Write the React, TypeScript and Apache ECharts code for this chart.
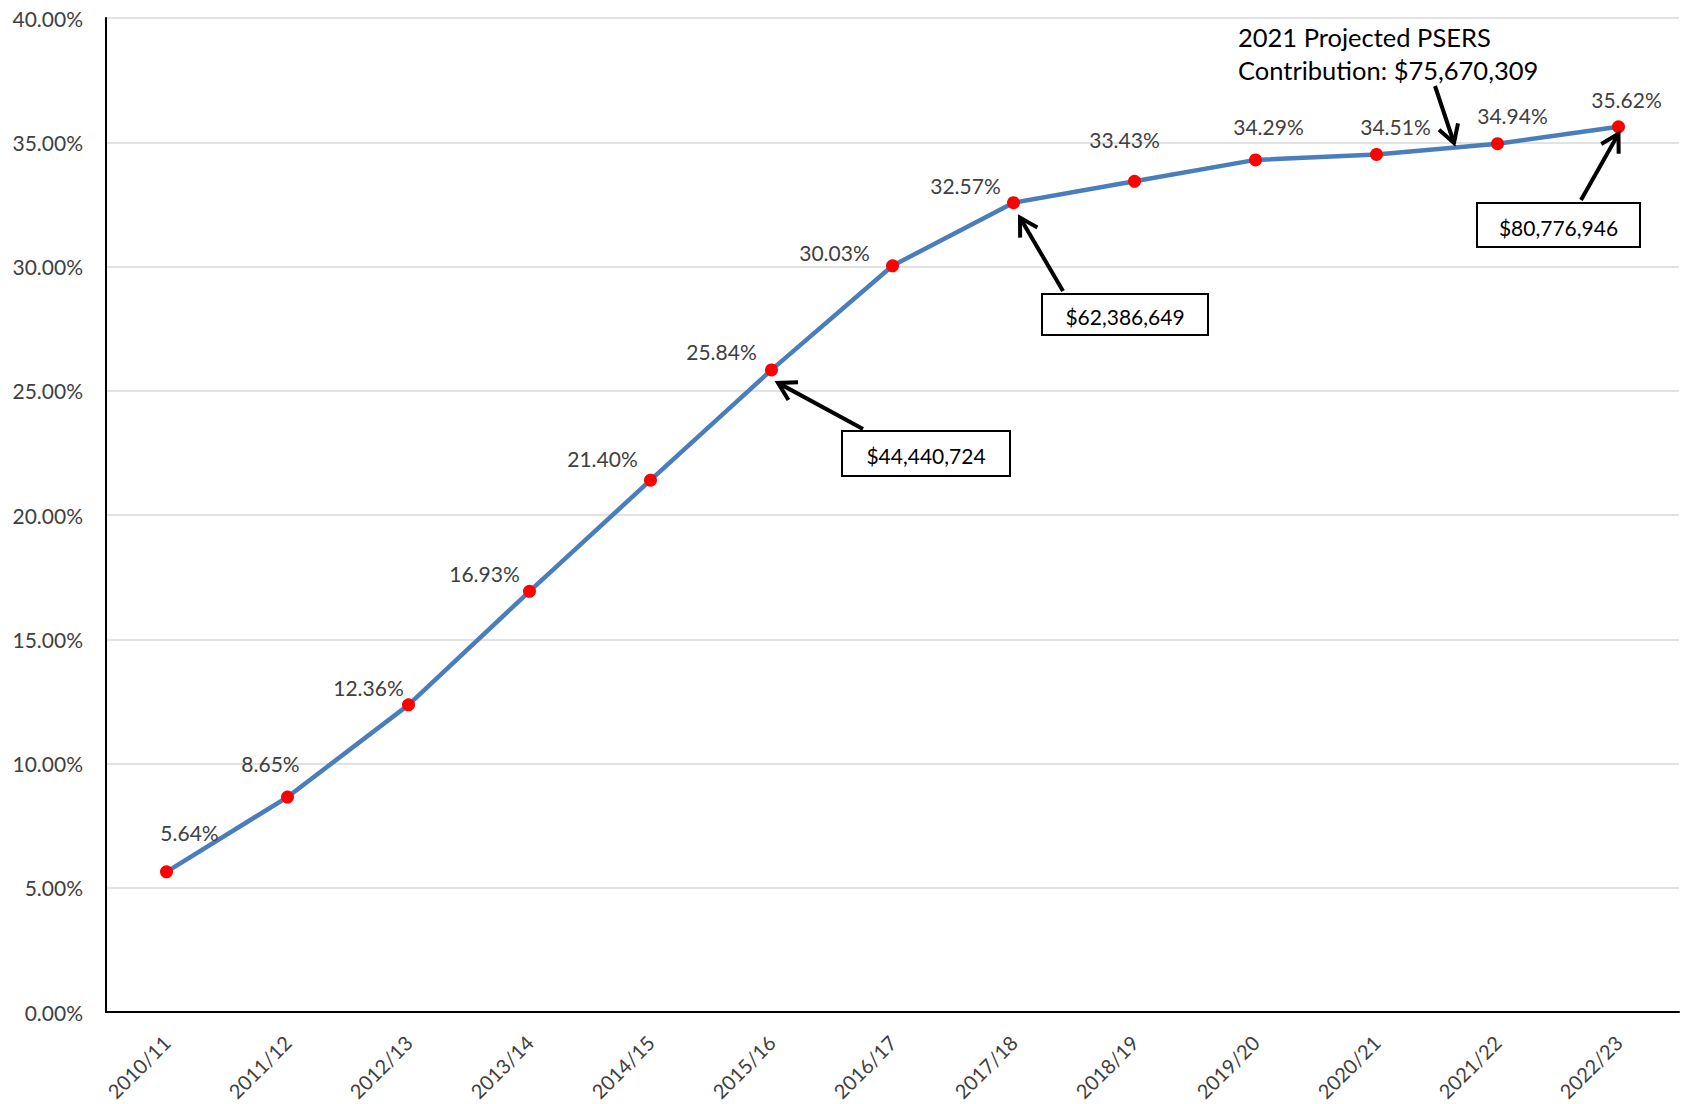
import { useEffect, useRef } from "react";
import * as echarts from "echarts";

// Fiscal years on the category axis
const years = [
  "2010/11", "2011/12", "2012/13", "2013/14", "2014/15", "2015/16", "2016/17",
  "2017/18", "2018/19", "2019/20", "2020/21", "2021/22", "2022/23",
];

// Employer contribution rate, percent of payroll
const rates = [5.64, 8.65, 12.36, 16.93, 21.4, 25.84, 30.03, 32.57, 33.43, 34.29, 34.51, 34.94, 35.62];

// Y axis range and step (percent)
const yMin = 0;
const yMax = 40;
const yStep = 5;

// Dollar amounts called out at selected years
const calloutYears = ["2015/16", "2017/18", "2022/23"];
const calloutAmounts = ["$44,440,724", "$62,386,649", "$80,776,946"];
const noteText = "2021 Projected PSERS\nContribution: $75,670,309";

// Hand-placed data label offsets from each marker (px)
const labelOffsets: [number, number][] = [
  [23, -39], [-17, -34], [-40, -17], [-45, -18], [-48, -22], [-50, -18], [-58, -13],
  [-48, -17], [-10, -42], [13, -33], [19, -28], [15, -28], [8, -27],
];

// Callout box layout: [x, y, w, h], arrow tail, tip offset from marker
const calloutLayout = [
  { box: [842, 431, 168, 45], tail: [863, 429], tip: [6.5, 13] },
  { box: [1042, 294, 166, 41], tail: [1063, 291], tip: [6.5, 15] },
  { box: [1477, 203, 163, 44], tail: [1581, 200], tip: [0, 7] },
];
const noteLayout = { x: 1238, y: 20, tail: [1435, 86], tip: [1454, 143] };

const FONT = "Lato, 'Open Sans', sans-serif";

function arrow(tail: number[], tip: number[]) {
  const dx = tip[0] - tail[0];
  const dy = tip[1] - tail[1];
  const len = Math.hypot(dx, dy);
  const ux = dx / len;
  const uy = dy / len;
  const h = 20;
  const a = Math.PI / 6;
  const c = Math.cos(a);
  const s = Math.sin(a);
  const left = [tip[0] - h * (ux * c - uy * s), tip[1] - h * (uy * c + ux * s)];
  const right = [tip[0] - h * (ux * c + uy * s), tip[1] - h * (uy * c - ux * s)];
  const stroke = { stroke: "#000", lineWidth: 4, lineCap: "butt", lineJoin: "miter" };
  return [
    { type: "line", z: 100, shape: { x1: tail[0], y1: tail[1], x2: tip[0], y2: tip[1] }, style: { ...stroke } },
    { type: "polyline", z: 100, shape: { points: [left, tip, right] }, style: { ...stroke, fill: "none" } },
  ];
}

export default function App() {
  const ref = useRef<HTMLDivElement>(null);

  useEffect(() => {
    if (!ref.current) return;
    const chart = echarts.init(ref.current, null, { renderer: "svg" });

    chart.setOption({
      animation: false,
      backgroundColor: "#fff",
      grid: { left: 106, right: 3, top: 18, bottom: 92, containLabel: false, outerBoundsMode: "none" },
      xAxis: {
        type: "category",
        data: years,
        boundaryGap: true,
        axisLine: { lineStyle: { color: "#000", width: 2 } },
        axisTick: { show: false },
        axisLabel: {
          rotate: 45,
          margin: 27,
          interval: 0,
          color: "#404040",
          fontFamily: FONT,
          fontSize: 20,
        },
        splitLine: { show: false },
      },
      yAxis: {
        type: "value",
        min: yMin,
        max: yMax,
        interval: yStep,
        axisLine: { show: true, lineStyle: { color: "#000", width: 2 } },
        axisTick: { show: false },
        axisLabel: {
          margin: 23,
          color: "#404040",
          fontFamily: FONT,
          fontSize: 21,
          formatter: (v: number) => v.toFixed(2) + "%",
        },
        splitLine: { lineStyle: { color: "#d9d9d9", width: 1.5 } },
      },
      series: [
        {
          type: "line",
          data: rates.map((v, i) => ({
            value: v,
            label: { offset: labelOffsets[i] },
          })),
          symbol: "circle",
          symbolSize: 13,
          itemStyle: { color: "#ff0000" },
          lineStyle: { color: "#4a7ebb", width: 4.5 },
          z: 3,
          label: {
            show: true,
            position: "inside",
            align: "center",
            verticalAlign: "middle",
            color: "#404040",
            fontFamily: FONT,
            fontSize: 21,
            formatter: (p: any) => p.value.toFixed(2) + "%",
          },
        },
      ],
    });

    // Callout boxes and arrows, anchored to markers
    const graphics: any[] = [];
    calloutYears.forEach((yr, k) => {
      const idx = years.indexOf(yr);
      const pt = chart.convertToPixel({ gridIndex: 0 }, [idx, rates[idx]]) as number[];
      const lay = calloutLayout[k];
      const [bx, by, bw, bh] = lay.box;
      graphics.push({
        type: "rect",
        z: 100,
        shape: { x: bx, y: by, width: bw, height: bh },
        style: { fill: "#fff", stroke: "#000", lineWidth: 2 },
      });
      graphics.push({
        type: "text",
        z: 101,
        x: bx + bw / 2,
        y: by + bh / 2 + 2,
        style: {
          text: calloutAmounts[k],
          fill: "#000",
          font: `21px ${FONT}`,
          align: "center",
          verticalAlign: "middle",
        },
      });
      graphics.push(...arrow(lay.tail, [pt[0] + lay.tip[0], pt[1] + lay.tip[1]]));
    });

    graphics.push({
      type: "text",
      z: 101,
      x: noteLayout.x,
      y: noteLayout.y,
      style: {
        text: noteText,
        fill: "#000",
        font: `25.5px ${FONT}`,
        lineHeight: 33,
        align: "left",
        verticalAlign: "top",
      },
    });
    graphics.push(...arrow(noteLayout.tail, noteLayout.tip));

    chart.setOption({ graphic: graphics });

    return () => chart.dispose();
  }, []);

  return (
    <div
      ref={ref}
      style={{ position: "absolute", left: 0, top: 0, width: 1682, height: 1104 }}
    />
  );
}
